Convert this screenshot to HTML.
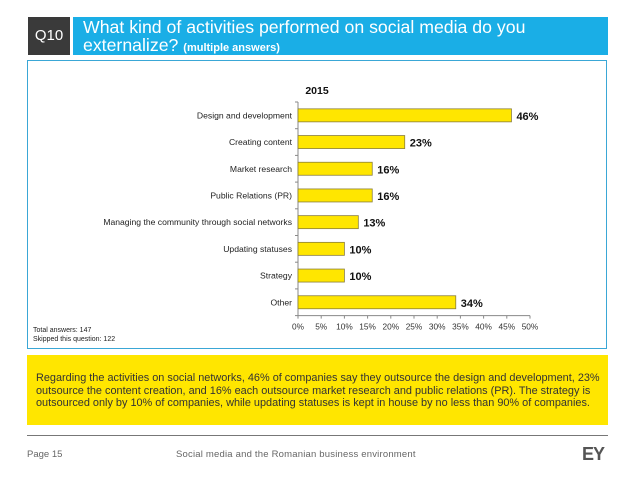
<!DOCTYPE html>
<html><head><meta charset="utf-8"><style>
body{margin:0;width:638px;height:479px;background:#fff;font-family:"Liberation Sans",sans-serif;position:relative;overflow:hidden}
.abs{position:absolute}
</style></head><body>
<div class="abs" style="left:28px;top:17px;width:42px;height:38px;background:#3a3a3a;color:#fff;font-size:15px;line-height:38px;text-align:center">Q10</div>
<div class="abs" style="left:73px;top:17px;width:535px;height:38px;background:#1aaee6;color:#fff;font-size:17.7px;line-height:18px;padding-left:10px;box-sizing:border-box;padding-top:1px">What kind of activities performed on social media do you<br>externalize? <b style="font-size:11px">(multiple answers)</b></div>
<div class="abs" style="left:27px;top:60px;width:580px;height:289px;border:1px solid #3aa7d6;box-sizing:border-box"></div>
<svg class="abs" style="left:0;top:0" width="638" height="479" id="chart"></svg>
<div class="abs" style="left:33px;top:326px;font-size:7px;color:#222;line-height:9px">Total answers: 147<br>Skipped this question: 122</div>
<div class="abs" style="left:27px;top:355px;width:581px;height:70px;background:#ffe600;color:#333;font-size:10.9px;line-height:12.5px;padding:17px 6px 0 9px;box-sizing:border-box">Regarding the activities on social networks, 46% of companies say they outsource the design and development, 23% outsource the content creation, and 16% each outsource market research and public relations (PR). The strategy is outsourced only by 10% of companies, while updating statuses is kept in house by no less than 90% of companies.</div>
<div class="abs" style="left:27px;top:435px;width:581px;height:1px;background:#777"></div>
<div class="abs" style="left:27px;top:449px;font-size:9.5px;color:#666">Page 15</div>
<div class="abs" style="left:176px;top:449px;font-size:9.5px;color:#666;letter-spacing:0.2px">Social media and the Romanian business environment</div>
<div class="abs" style="left:582px;top:444px;font-size:18px;font-weight:bold;color:#555;letter-spacing:-1px">EY</div>
<script>
const categories=["Design and development","Creating content","Market research","Public Relations (PR)","Managing the community through social networks","Updating statuses","Strategy","Other"];
const values=[46,23,16,16,13,10,10,34];
const ticks=[0,5,10,15,20,25,30,35,40,45,50];
const svg=document.getElementById('chart');
const NS='http://www.w3.org/2000/svg';
const x0=298,x1=530,y0=102,step=26.7;
const xs=v=>x0+(v/50)*(x1-x0);
function mk(t,a,txt){const e=document.createElementNS(NS,t);for(const k in a)e.setAttribute(k,a[k]);if(txt!==undefined)e.textContent=txt;svg.appendChild(e);return e;}
const title=mk('text',{x:317,y:94,'font-size':10.5,'font-weight':'bold','text-anchor':'middle',fill:'#111'},'2015');


const yax=mk('line',{x1:x0,y1:y0,x2:x0,y2:y0+step*categories.length,stroke:'#888'});


const xax=mk('line',{x1:x0,y1:y0+step*categories.length,x2:x1,y2:y0+step*categories.length,stroke:'#888'});


const yb=y0+step*categories.length;
ticks.forEach(t=>{
  mk('line',{x1:xs(t),y1:yb,x2:xs(t),y2:yb+3,stroke:'#888'});
  const l=mk('text',{x:xs(t),y:yb+14,'font-size':8.3,'text-anchor':'middle',fill:'#333'},t+'%');
  
  
});
for(let i=0;i<=categories.length;i++)mk('line',{x1:x0-3,y1:y0+i*step,x2:x0,y2:y0+i*step,stroke:'#888'});
categories.forEach((c,i)=>{
  const cy=y0+i*step+step/2;
  const lab=mk('text',{x:x0-6,y:cy+3,'font-size':8.6,'text-anchor':'end',fill:'#222'},c);
  
  
  const b=mk('rect',{x:x0,y:cy-6.5,width:xs(values[i])-x0,height:13,fill:'#ffe600',stroke:'#8a7f3a','stroke-width':0.8});
  
  
  const v=mk('text',{x:xs(values[i])+5,y:cy+4.5,'font-size':11,'font-weight':'bold',fill:'#111'},values[i]+'%');
  
  
});
</script>
</body></html>
